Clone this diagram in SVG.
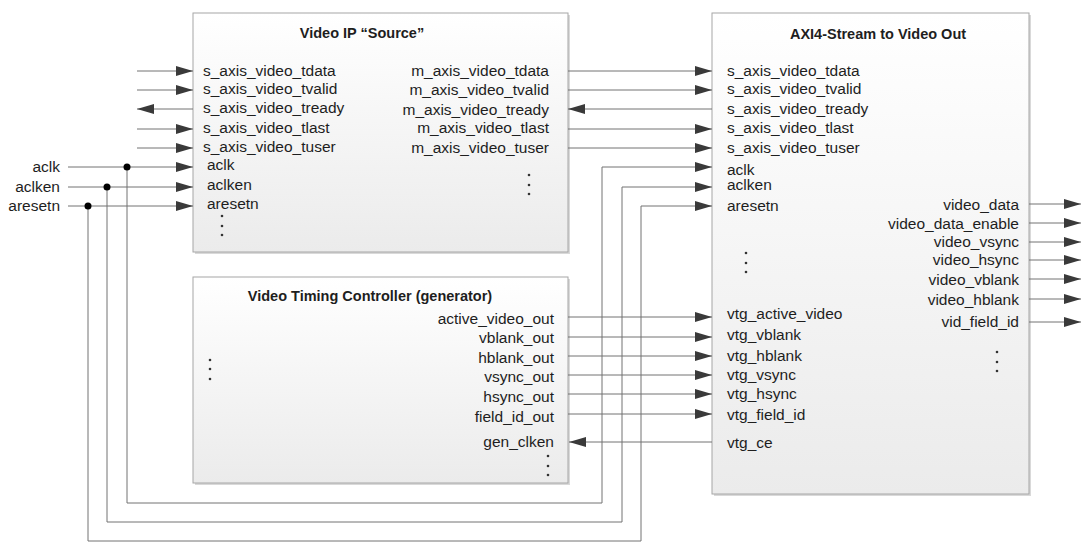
<svg xmlns="http://www.w3.org/2000/svg" width="1082" height="543" viewBox="0 0 1082 543">
<defs>
<linearGradient id="boxfill" x1="0" y1="0" x2="0" y2="1">
<stop offset="0" stop-color="#ffffff"/>
<stop offset="1" stop-color="#ebebeb"/>
</linearGradient>
<marker id="arr" viewBox="0 0 17 10" refX="17" refY="5" markerWidth="17" markerHeight="10" markerUnits="userSpaceOnUse" orient="auto">
<path d="M0,0 L17,5 L0,10 z" fill="#3a3a3a"/>
</marker>
<style>
.box{fill:url(#boxfill);stroke:#a6a6a6;stroke-width:1}
.shadow{fill:#d9d9d9}
.t{font-family:"Liberation Sans",Arial,sans-serif;font-size:15.5px;fill:#1e1e1e}
.r{text-anchor:end}
.title{font-family:"Liberation Sans",Arial,sans-serif;font-size:14.5px;font-weight:bold;fill:#1e1e1e;text-anchor:middle}
.w{fill:none;stroke:#727272;stroke-width:1}
.a{marker-end:url(#arr)}
.dot{fill:#333}
.jn{fill:#000}
</style>
</defs>
<rect width="1082" height="543" fill="#ffffff"/>

<g id="source">
<rect class="shadow" x="195" y="15" width="375" height="239"/>
<rect class="box" x="193" y="13" width="375" height="239"/>
<text class="title" x="362" y="38">Video IP “Source”</text>
<text class="t" x="203" y="76">s_axis_video_tdata</text>
<text class="t" x="203" y="94">s_axis_video_tvalid</text>
<text class="t" x="203" y="113">s_axis_video_tready</text>
<text class="t" x="203" y="133">s_axis_video_tlast</text>
<text class="t" x="203" y="152">s_axis_video_tuser</text>
<text class="t" x="207" y="170">aclk</text>
<text class="t" x="207" y="190">aclken</text>
<text class="t" x="207" y="209">aresetn</text>
<text class="t r" x="549" y="76">m_axis_video_tdata</text>
<text class="t r" x="549" y="95">m_axis_video_tvalid</text>
<text class="t r" x="549" y="115">m_axis_video_tready</text>
<text class="t r" x="549" y="133">m_axis_video_tlast</text>
<text class="t r" x="549" y="153">m_axis_video_tuser</text>
<circle class="dot" cx="222" cy="216" r="1.3"/><circle class="dot" cx="222" cy="226" r="1.3"/><circle class="dot" cx="222" cy="235" r="1.3"/>
<circle class="dot" cx="529" cy="175" r="1.3"/><circle class="dot" cx="529" cy="185" r="1.3"/><circle class="dot" cx="529" cy="194" r="1.3"/>
</g>

<g id="vtc">
<rect class="shadow" x="195" y="279" width="375" height="206"/>
<rect class="box" x="193" y="277" width="375" height="206"/>
<text class="title" x="370" y="301">Video Timing Controller (generator)</text>
<text class="t r" x="554" y="324">active_video_out</text>
<text class="t r" x="554" y="343">vblank_out</text>
<text class="t r" x="554" y="363">hblank_out</text>
<text class="t r" x="554" y="382">vsync_out</text>
<text class="t r" x="554" y="402">hsync_out</text>
<text class="t r" x="554" y="422">field_id_out</text>
<text class="t r" x="554" y="447">gen_clken</text>
<circle class="dot" cx="210" cy="360" r="1.3"/><circle class="dot" cx="210" cy="369" r="1.3"/><circle class="dot" cx="210" cy="379" r="1.3"/>
<circle class="dot" cx="548" cy="456" r="1.3"/><circle class="dot" cx="548" cy="466" r="1.3"/><circle class="dot" cx="548" cy="475" r="1.3"/>
</g>

<g id="axi2video">
<rect class="shadow" x="714" y="15" width="317" height="481"/>
<rect class="box" x="712" y="13" width="317" height="481"/>
<text class="title" x="878" y="39">AXI4-Stream to Video Out</text>
<text class="t" x="727" y="76">s_axis_video_tdata</text>
<text class="t" x="727" y="94">s_axis_video_tvalid</text>
<text class="t" x="727" y="114">s_axis_video_tready</text>
<text class="t" x="727" y="133">s_axis_video_tlast</text>
<text class="t" x="727" y="153">s_axis_video_tuser</text>
<text class="t" x="727" y="175">aclk</text>
<text class="t" x="727" y="190">aclken</text>
<text class="t" x="727" y="211">aresetn</text>
<text class="t" x="727" y="319">vtg_active_video</text>
<text class="t" x="727" y="340">vtg_vblank</text>
<text class="t" x="727" y="361">vtg_hblank</text>
<text class="t" x="727" y="380">vtg_vsync</text>
<text class="t" x="727" y="399">vtg_hsync</text>
<text class="t" x="727" y="420">vtg_field_id</text>
<text class="t" x="727" y="448">vtg_ce</text>
<text class="t r" x="1019" y="210">video_data</text>
<text class="t r" x="1019" y="229">video_data_enable</text>
<text class="t r" x="1019" y="247">video_vsync</text>
<text class="t r" x="1019" y="265">video_hsync</text>
<text class="t r" x="1019" y="285">video_vblank</text>
<text class="t r" x="1019" y="305">video_hblank</text>
<text class="t r" x="1019" y="327">vid_field_id</text>
<circle class="dot" cx="746" cy="253" r="1.3"/><circle class="dot" cx="746" cy="263" r="1.3"/><circle class="dot" cx="746" cy="272" r="1.3"/>
<circle class="dot" cx="997" cy="352" r="1.3"/><circle class="dot" cx="997" cy="362" r="1.3"/><circle class="dot" cx="997" cy="371" r="1.3"/>
</g>

<g id="ext-labels">
<text class="t r" x="60" y="172">aclk</text>
<text class="t r" x="60" y="192">aclken</text>
<text class="t r" x="60" y="211">aresetn</text>
</g>

<g id="connectors">
<path class="w a" d="M137,71 H193"/>
<path class="w a" d="M137,90 H193"/>
<path class="w a" d="M193,109 H137"/>
<path class="w a" d="M137,129 H193"/>
<path class="w a" d="M137,148 H193"/>
<path class="w a" d="M68,167 H193"/>
<path class="w a" d="M68,187 H193"/>
<path class="w a" d="M68,206 H193"/>
<path class="w a" d="M568,71 H712"/>
<path class="w a" d="M568,90 H712"/>
<path class="w a" d="M712,109 H568"/>
<path class="w a" d="M568,129 H712"/>
<path class="w a" d="M568,148 H712"/>
<path class="w a" d="M127,167 V503 H602 V167 H712"/>
<path class="w a" d="M107,187 V522 H622 V187 H712"/>
<path class="w a" d="M88,206 V541 H641 V206 H712"/>
<path class="w a" d="M568,317 H712"/>
<path class="w a" d="M568,337 H712"/>
<path class="w a" d="M568,356 H712"/>
<path class="w a" d="M568,375 H712"/>
<path class="w a" d="M568,394 H712"/>
<path class="w a" d="M568,414 H712"/>
<path class="w a" d="M712,442 H569"/>
<path class="w a" d="M1029,204 H1081"/>
<path class="w a" d="M1029,223 H1081"/>
<path class="w a" d="M1029,242 H1081"/>
<path class="w a" d="M1029,260 H1081"/>
<path class="w a" d="M1029,279 H1081"/>
<path class="w a" d="M1029,299 H1081"/>
<path class="w a" d="M1029,322 H1081"/>
<circle class="jn" cx="127" cy="167" r="3.5"/>
<circle class="jn" cx="107" cy="187" r="3.5"/>
<circle class="jn" cx="88" cy="206" r="3.5"/>
</g>
</svg>
